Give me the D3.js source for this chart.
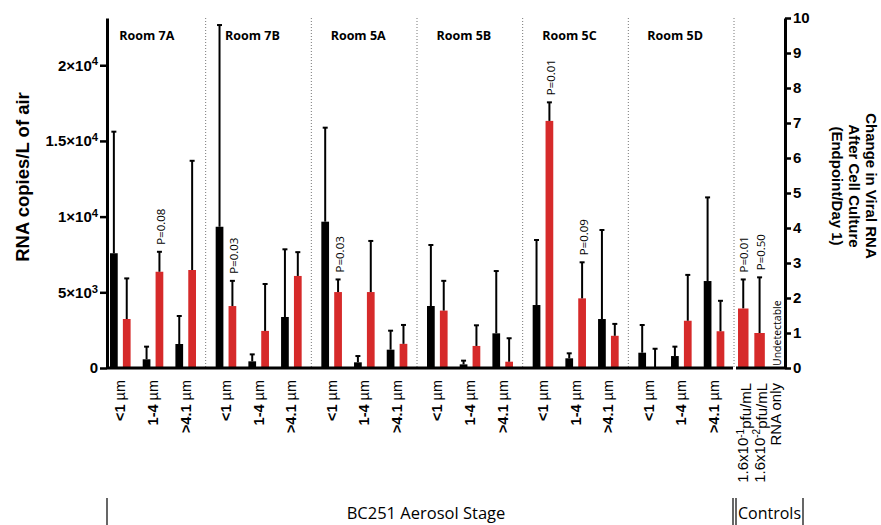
<!DOCTYPE html>
<html>
<head>
<meta charset="utf-8">
<script src="https://cdn.jsdelivr.net/npm/d3@7"></script>
<style>
  body { margin: 0; background: #fff; }
  svg { display: block; }
  text { font-family: "Liberation Sans", Arial, sans-serif; }
  .cal { font-family: "Open Sans", sans-serif; }
</style>
</head>
<body>
<svg id="chart"></svg>
<script>
// chart size
w = 881;
h = 525;

var rooms = ["Room 7A", "Room 7B", "Room 5A", "Room 5B", "Room 5C", "Room 5D"];
var stages = ["<1 ", "1-4 ", ">4.1 "];

// RNA copies / L of air (black bars, left axis), mean and upper error
var rnaMean  = [7580, 575, 1585,  9330, 440, 3370,  9665, 375, 1210,  4095, 240, 2290,  4160, 640, 3235,  1010, 790, 5745];
var rnaUpper = [15610, 1410, 3435,  22655, 900, 7840,  15875, 790, 2465,  8125, 485, 6405,  8455, 970, 9115,  2840, 1410, 11270];

// change in viral RNA after culture (red bars, right axis)
var foldMean  = [1.40, 2.75, 2.80,  1.77, 1.06, 2.63,  2.17, 2.17, 0.69,  1.64, 0.63, 0.18,  7.06, 1.99, 0.92,  0, 1.35, 1.05];
var foldUpper = [2.56, 3.32, 5.92,  2.49, 2.40, 3.31,  2.53, 3.63, 1.23,  2.49, 1.22, 0.85,  7.59, 3.02, 1.26,  0.55, 2.66, 1.92];
var pLabels = [null, "P=0.08", null,  "P=0.03", null, null,  "P=0.03", null, null,
               null, null, null,  "P=0.01", "P=0.09", null,  null, null, null];

// controls
var controls = ["c1", "c2", "c3"];
var controlBase = ["1.6x10", "1.6x10", "RNA only"];
var controlExp = ["-1", "-2", ""];
var controlMean = [1.70, 1.00, null];
var controlUpper = [2.53, 2.59, null];
var controlP = ["P=0.01", "P=0.50", null];

var leftTicks = [0, 5000, 10000, 15000, 20000];
var leftTickBase = ["0", "5×10", "1×10", "1.5×10", "2×10"];
var leftTickExp = ["", "3", "4", "4", "4"];
var rightTicks = [0, 1, 2, 3, 4, 5, 6, 7, 8, 9, 10];

var red = "#d62a2a";

var svg = d3.select("#chart").attr("width", w).attr("height", h);

var yL = d3.scaleLinear().domain([0, 23120]).range([368, 18]);
var yR = d3.scaleLinear().domain([0, 10]).range([368, 18]);

var groupX = d3.scaleBand().domain(rooms).range([100, 734]);
var pairX = d3.scaleBand().domain(stages).range([10, 96]).paddingInner(0.37);
var serX = d3.scaleBand().domain(["rna", "fold"]).range([0, pairX.bandwidth()]).paddingInner(0.4);
var ctrlX = d3.scaleBand().domain(controls).range([736, 785]);

var axisX0 = 107, axisX1 = 785;

// build flat list of bars
var items = [];
for (var i = 0; i < rnaMean.length; i++) {
  var room = rooms[Math.floor(i / 3)];
  var stage = stages[i % 3];
  var x0 = groupX(room) + pairX(stage);
  items.push({ i: i, x0: x0, stage: stage });
}

// dotted separators
svg.append("g").selectAll("line").data(rooms).enter().append("line")
    .attr("x1", function(d) { return groupX(d) + groupX.step(); })
    .attr("x2", function(d) { return groupX(d) + groupX.step(); })
    .attr("y1", 18).attr("y2", 368)
    .attr("stroke", "#777").attr("stroke-width", 1)
    .attr("stroke-dasharray", "1,2");

// room labels
svg.append("g").selectAll("text").data(rooms).enter().append("text")
    .attr("class", "cal")
    .attr("x", function(d) { return groupX(d) + groupX.step() / 2 - 6; })
    .attr("y", 40)
    .attr("text-anchor", "middle")
    .attr("font-size", 12.5).attr("font-weight", "bold")
    .text(function(d) { return d; });

// black bars
svg.append("g").selectAll("rect").data(items).enter().append("rect")
    .attr("x", function(d) { return d.x0 + serX("rna"); })
    .attr("width", serX.bandwidth())
    .attr("y", function(d) { return yL(rnaMean[d.i]); })
    .attr("height", function(d) { return yL(0) - yL(rnaMean[d.i]); })
    .attr("fill", "#000");

// red bars
svg.append("g").selectAll("rect").data(items).enter().append("rect")
    .attr("x", function(d) { return d.x0 + serX("fold"); })
    .attr("width", serX.bandwidth())
    .attr("y", function(d) { return yR(foldMean[d.i]); })
    .attr("height", function(d) { return yR(0) - yR(foldMean[d.i]); })
    .attr("fill", red);

function errBar(g, cx, yTop, yBase) {
  g.append("line").attr("x1", cx).attr("x2", cx).attr("y1", yBase).attr("y2", yTop)
      .attr("stroke", "#000").attr("stroke-width", 2);
  g.append("line").attr("x1", cx - 2.5).attr("x2", cx + 2.5).attr("y1", yTop).attr("y2", yTop)
      .attr("stroke", "#000").attr("stroke-width", 2);
}

var errG = svg.append("g");
items.forEach(function(d) {
  var cb = d.x0 + serX("rna") + serX.bandwidth() / 2;
  var cr = d.x0 + serX("fold") + serX.bandwidth() / 2;
  errBar(errG, cb, yL(rnaUpper[d.i]), yL(rnaMean[d.i]));
  errBar(errG, cr, yR(foldUpper[d.i]), yR(foldMean[d.i]));
  if (pLabels[d.i]) {
    errG.append("text")
        .attr("class", "cal")
        .attr("transform", "translate(" + (cr + 2) + "," + (yR(foldUpper[d.i]) - 7) + ") rotate(-90)")
        .attr("dy", "0.35em")
        .attr("font-size", 11.5)
        .text(pLabels[d.i]);
  }
});

// controls
controls.forEach(function(c, k) {
  var x = ctrlX(c) + 2;
  var bw = 10.5;
  var cx = x + bw / 2;
  if (controlMean[k] != null) {
    svg.append("rect").attr("x", x).attr("width", bw)
        .attr("y", yR(controlMean[k])).attr("height", yR(0) - yR(controlMean[k]))
        .attr("fill", red);
    errBar(errG, cx, yR(controlUpper[k]), yR(controlMean[k]));
    errG.append("text")
        .attr("class", "cal")
        .attr("transform", "translate(" + (cx + 1) + "," + (yR(controlUpper[k]) - 7) + ") rotate(-90)")
        .attr("dy", "0.35em")
        .attr("font-size", 11.5)
        .text(controlP[k]);
  } else {
    svg.append("text")
        .attr("class", "cal")
        .attr("transform", "translate(" + (cx + 1) + "," + (yR(0) - 2) + ") rotate(-90)")
        .attr("dy", "0.35em")
        .attr("font-size", 10.5)
        .text("Undetectable");
  }
  // control tick label
  var t = svg.append("text")
      .attr("transform", "translate(" + (ctrlX(c) + 7) + ",383) rotate(-90)")
      .attr("dy", "0.35em")
      .attr("text-anchor", "end")
      .attr("font-size", 15);
  t.append("tspan").text(controlBase[k]);
  if (controlExp[k]) {
    t.append("tspan").attr("dy", "-0.45em").attr("font-size", 10).text(controlExp[k]);
    t.append("tspan").attr("dy", "0.45em").text("pfu/mL");
  }
});

// stage labels under bars
items.forEach(function(d) {
  var cx = d.x0 + pairX.bandwidth() / 2;
  var t = svg.append("text")
      .attr("transform", "translate(" + cx + ",380) rotate(-90)")
      .attr("dy", "0.35em")
      .attr("text-anchor", "end")
      .attr("font-size", 14.5).attr("font-weight", "bold");
  t.append("tspan").text(d.stage);
  t.append("tspan").attr("font-weight", "normal").text("µm");
});

// axes
var gL = svg.append("g").attr("transform", "translate(" + axisX0 + ",0)")
    .call(d3.axisLeft(yL).tickValues(leftTicks).tickSize(7).tickSizeOuter(0));
gL.select(".domain").attr("stroke-width", 3);
gL.selectAll(".tick line").attr("stroke-width", 2.5);
gL.selectAll(".tick text")
    .attr("font-family", "Liberation Sans, Arial, sans-serif")
    .attr("font-size", 15).attr("font-weight", "bold").attr("x", -9)
    .each(function(d, i) {
      var t = d3.select(this);
      t.text(leftTickBase[i]);
      if (leftTickExp[i]) {
        t.append("tspan").attr("dy", "-0.45em").attr("font-size", "0.75em").text(leftTickExp[i]);
      }
    });

var gR = svg.append("g").attr("transform", "translate(" + axisX1 + ",0)")
    .call(d3.axisRight(yR).tickValues(rightTicks).tickSize(6).tickSizeOuter(0));
gR.select(".domain").attr("stroke-width", 3);
gR.selectAll(".tick line").attr("stroke-width", 2.5);
gR.selectAll(".tick text")
    .attr("font-family", "Liberation Sans, Arial, sans-serif")
    .attr("font-size", 15).attr("font-weight", "bold").attr("x", 8);

// bottom axis line, broken before controls
svg.append("line").attr("x1", axisX0).attr("x2", groupX.range()[1] - 1)
    .attr("y1", yL(0)).attr("y2", yL(0)).attr("stroke", "#000").attr("stroke-width", 3);
svg.append("line").attr("x1", ctrlX.range()[0]).attr("x2", axisX1)
    .attr("y1", yR(0)).attr("y2", yR(0)).attr("stroke", "#000").attr("stroke-width", 3);

// axis titles
svg.append("text")
    .attr("transform", "translate(29,177) rotate(-90)")
    .attr("text-anchor", "middle")
    .attr("font-size", 18.5).attr("font-weight", "bold")
    .text("RNA copies/L of air");

var rt = svg.append("text")
    .attr("transform", "translate(866,186) rotate(90)")
    .attr("text-anchor", "middle")
    .attr("font-size", 15).attr("font-weight", "bold");
["Change in Viral RNA", "After Cell Culture", "(Endpoint/Day 1)"].forEach(function(s, k) {
  rt.append("tspan").attr("x", 0).attr("dy", k == 0 ? 0 : "1.13em").text(s);
});

// bottom group captions
svg.append("line").attr("x1", axisX0).attr("x2", axisX0).attr("y1", 498).attr("y2", 525)
    .attr("stroke", "#000").attr("stroke-width", 1.2);
svg.append("text").attr("class", "cal")
    .attr("x", 426).attr("y", 519).attr("text-anchor", "middle")
    .attr("font-size", 16.5).text("BC251 Aerosol Stage");

[733, 736, 803].forEach(function(x) {
  svg.append("line").attr("x1", x).attr("x2", x).attr("y1", 498).attr("y2", 525)
      .attr("stroke", "#000").attr("stroke-width", 1.2);
});
svg.append("text").attr("class", "cal")
    .attr("x", 769.5).attr("y", 519).attr("text-anchor", "middle")
    .attr("font-size", 16).text("Controls");
</script>
</body>
</html>
